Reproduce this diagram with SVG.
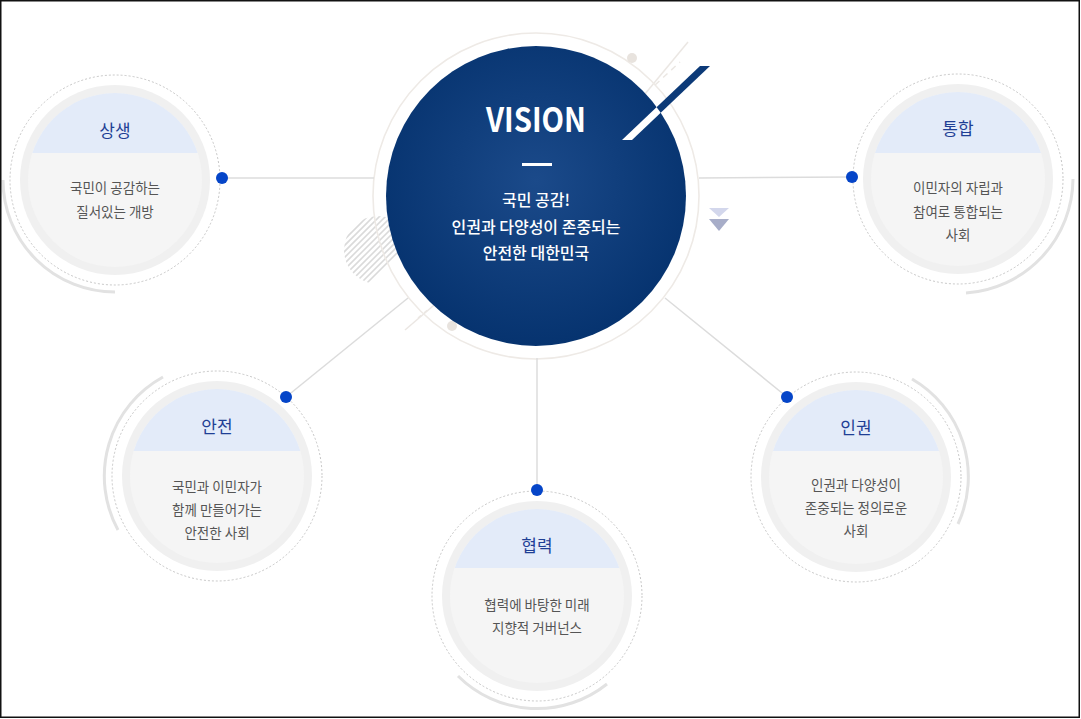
<svg xmlns="http://www.w3.org/2000/svg" width="1081" height="719" viewBox="0 0 1081 719">
<defs>
<style>
.dash{fill:none;stroke:#b9b9b9;stroke-width:0.8;stroke-dasharray:2 2}
.rim{fill:#f0f0f0}
.inner{fill:#f5f5f5}
.band{fill:#e3ebf9}
.arc{fill:none;stroke:#e2e2e2;stroke-width:3}
.title{font-family:"Noto Sans CJK KR","Noto Sans",sans-serif;font-size:17px;fill:#1f3f95;text-anchor:middle}
.body{font-family:"Noto Sans CJK KR","Noto Sans",sans-serif;font-size:13.5px;fill:#555;text-anchor:middle}
.conn{stroke:#dcdcdc;stroke-width:1.5}
.dot{fill:#0545c8}
.faint{stroke:#ebe7e3;stroke-width:1.5;fill:none}
.vtext{font-family:"Noto Sans CJK KR","Noto Sans",sans-serif;fill:#fff;text-anchor:middle}
</style>
<clipPath id="inClip"><circle cx="0" cy="0" r="87"/></clipPath>
<clipPath id="centerClip"><circle cx="536" cy="196" r="150"/></clipPath>
<clipPath id="hatchClip"><circle cx="378" cy="250" r="34"/></clipPath>
<radialGradient id="navy" cx="50%" cy="45%" r="55%">
<stop offset="0" stop-color="#1b4a8a"/>
<stop offset="1" stop-color="#06336f"/>
</radialGradient>
</defs>
<rect x="0" y="0" width="1081" height="719" fill="#fff"/>

<!-- decorations -->
<g id="decor">
<g clip-path="url(#hatchClip)" stroke="#dadada" stroke-width="1.6">
<line x1="330" y1="224" x2="354" y2="200"/>
<line x1="330" y1="230" x2="360" y2="200"/>
<line x1="330" y1="236" x2="366" y2="200"/>
<line x1="330" y1="242" x2="372" y2="200"/>
<line x1="330" y1="248" x2="378" y2="200"/>
<line x1="330" y1="254" x2="384" y2="200"/>
<line x1="330" y1="260" x2="390" y2="200"/>
<line x1="330" y1="266" x2="396" y2="200"/>
<line x1="330" y1="272" x2="402" y2="200"/>
<line x1="330" y1="278" x2="408" y2="200"/>
<line x1="330" y1="284" x2="414" y2="200"/>
<line x1="330" y1="290" x2="420" y2="200"/>
<line x1="336" y1="290" x2="426" y2="200"/>
<line x1="342" y1="290" x2="432" y2="200"/>
<line x1="348" y1="290" x2="438" y2="200"/>
<line x1="354" y1="290" x2="444" y2="200"/>
<line x1="360" y1="290" x2="450" y2="200"/>
</g>
<line class="faint" x1="405" y1="330" x2="440" y2="300"/>
<line class="faint" x1="418" y1="318" x2="430" y2="308" stroke-dasharray="4 4"/>
<line class="faint" x1="640" y1="100" x2="688" y2="42"/>
<line class="faint" x1="655" y1="85" x2="680" y2="62" stroke-dasharray="6 5"/>
<circle cx="536" cy="196" r="163" fill="none" stroke="#eeeae6" stroke-width="1.6"/>
<circle cx="632" cy="58" r="5" fill="#e8e3de"/>
<circle cx="452" cy="326" r="5" fill="#e8e3de"/>
<polygon points="709,208 729,208 719,217" fill="#d3d7ec"/>
<polygon points="709,219 729,219 719,231" fill="#a7adc8"/>
</g>

<!-- connectors -->
<g id="connectors">
<line class="conn" x1="222" y1="178" x2="374" y2="178"/>
<line class="conn" x1="699" y1="178" x2="852" y2="177"/>
<line class="conn" x1="286" y1="397" x2="408" y2="298"/>
<line class="conn" x1="787" y1="397" x2="665" y2="298"/>
<line class="conn" x1="537" y1="358" x2="537" y2="490"/>
</g>

<!-- center -->
<g id="vision">
<circle cx="536" cy="196" r="150" fill="url(#navy)"/>
<polygon points="622,140 632,140 710,66 700,66" fill="#0c3a78"/>
<polygon points="622,140 632,140 710,66 700,66" fill="#fff" clip-path="url(#centerClip)"/>
<text class="vtext" x="536" y="132" font-size="33" font-weight="600" font-family="'Noto Sans','Open Sans',sans-serif" textLength="100" lengthAdjust="spacingAndGlyphs">VISION</text>
<rect x="522" y="163" width="30" height="3" fill="#fff"/>
<text class="vtext" x="536" y="206" font-size="16" font-weight="500">국민 공감!</text>
<text class="vtext" x="536" y="233" font-size="16" font-weight="500">인권과 다양성이 존중되는</text>
<text class="vtext" x="536" y="259" font-size="16" font-weight="500">안전한 대한민국</text>
</g>

<!-- 상생 -->
<g id="node-sangsaeng" transform="translate(115,180)">
<path class="arc" d="M -112 0 A 112 112 0 0 0 0 112"/>
<circle class="dash" r="105"/>
<circle class="rim" r="95"/>
<circle class="inner" r="87"/>
<rect class="band" x="-90" y="-90" width="180" height="63" clip-path="url(#inClip)"/>
<text class="title" x="0" y="-43">상생</text>
<text class="body" x="0" y="13">국민이 공감하는</text>
<text class="body" x="0" y="37">질서있는 개방</text>
</g>
<circle class="dot" cx="222" cy="178" r="6"/>

<!-- 통합 -->
<g id="node-tonghap" transform="translate(958,179)">
<path class="arc" d="M 115 0 A 115 115 0 0 1 8 114"/>
<circle class="dash" r="105"/>
<circle class="rim" r="95"/>
<circle class="inner" r="87"/>
<rect class="band" x="-90" y="-90" width="180" height="64" clip-path="url(#inClip)"/>
<text class="title" x="0" y="-44">통합</text>
<text class="body" x="0" y="14">이민자의 자립과</text>
<text class="body" x="0" y="38">참여로 통합되는</text>
<text class="body" x="0" y="61">사회</text>
</g>
<circle class="dot" cx="852" cy="177" r="6"/>

<!-- 안전 -->
<g id="node-anjeon" transform="translate(217,476)">
<path class="arc" d="M -54 -99 A 113 113 0 0 0 -99 54"/>
<circle class="dash" r="105"/>
<circle class="rim" r="95"/>
<circle class="inner" r="87"/>
<rect class="band" x="-90" y="-90" width="180" height="65" clip-path="url(#inClip)"/>
<text class="title" x="0" y="-43">안전</text>
<text class="body" x="0" y="16">국민과 이민자가</text>
<text class="body" x="0" y="39">함께 만들어가는</text>
<text class="body" x="0" y="62">안전한 사회</text>
</g>
<circle class="dot" cx="286" cy="397" r="6"/>

<!-- 협력 -->
<g id="node-hyeomnyeok" transform="translate(537,596)">
<path class="arc" d="M -79 80 A 112 112 0 0 0 70 88"/>
<circle class="dash" r="105"/>
<circle class="rim" r="95"/>
<circle class="inner" r="87"/>
<rect class="band" x="-90" y="-90" width="180" height="62" clip-path="url(#inClip)"/>
<text class="title" x="0" y="-44">협력</text>
<text class="body" x="0" y="14">협력에 바탕한 미래</text>
<text class="body" x="0" y="37">지향적 거버넌스</text>
</g>
<circle class="dot" cx="537" cy="490" r="6"/>

<!-- 인권 -->
<g id="node-ingwon" transform="translate(856,477)">
<path class="arc" d="M 56 -98 A 113 113 0 0 1 102 47"/>
<circle class="dash" r="105"/>
<circle class="rim" r="95"/>
<circle class="inner" r="87"/>
<rect class="band" x="-90" y="-90" width="180" height="64" clip-path="url(#inClip)"/>
<text class="title" x="0" y="-43">인권</text>
<text class="body" x="0" y="13">인권과 다양성이</text>
<text class="body" x="0" y="36">존중되는 정의로운</text>
<text class="body" x="0" y="59">사회</text>
</g>
<circle class="dot" cx="787" cy="397" r="6"/>

<rect id="frame" x="0.75" y="0.75" width="1078.5" height="716.5" fill="none" stroke="#111" stroke-width="1.5"/>
</svg>
